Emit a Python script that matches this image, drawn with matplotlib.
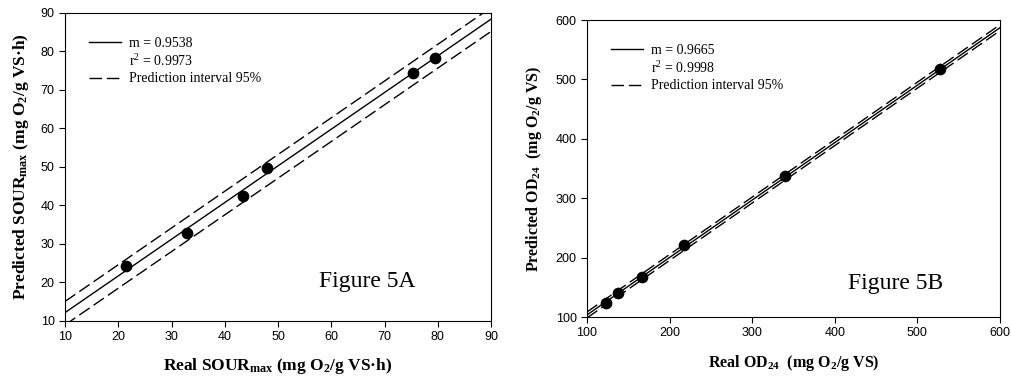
import matplotlib
matplotlib.use("Agg")
import matplotlib.pyplot as plt
from matplotlib.lines import Line2D

plt.rcParams['font.family'] = 'Liberation Serif'
plt.rcParams['mathtext.default'] = 'regular'

# Figure 5A: SOUR max
real_sour = [21.5, 33.0, 43.5, 47.9, 75.4, 79.5]
pred_sour = [24.1, 32.9, 42.5, 49.7, 74.4, 78.3]
fit_a_x = [10, 90]
fit_a_y = [12.1, 88.4]
upper_a_y = [15.0, 91.4]
lower_a_y = [8.9, 85.2]

# Figure 5B: OD24
real_od = [123, 138, 166, 217, 340, 527]
pred_od = [124, 140, 168, 221, 337, 517]
fit_b_x = [100, 600]
fit_b_y = [103.5, 587.0]
upper_b_y = [108.5, 592.0]
lower_b_y = [98.5, 582.0]

fig = plt.figure(figsize=(10.11, 3.80), dpi=100)
ax1 = fig.add_axes([65/1011, 1-320.7/380, 426/1011, 307.7/380])
ax2 = fig.add_axes([587/1011, 1-317/380, 413/1011, 297/380])

dash = (9, 3.5)


def draw(ax, x, y, fx, fy, uy, ly, m, r2, label, lx, ly_txt):
    ax.plot(fx, fy, color='black', lw=1)
    ax.plot(fx, uy, color='black', lw=1, dashes=dash)
    ax.plot(fx, ly, color='black', lw=1, dashes=dash)
    ax.scatter(x, y, s=55, color='black', zorder=3)
    handles = [Line2D([], [], color='black', lw=1),
               Line2D([], [], color='none'),
               Line2D([], [], color='black', lw=1, dashes=dash)]
    ax.legend(handles, ['m = %s' % m, 'r$^2$ = %s' % r2, 'Prediction interval 95%'],
              loc='upper left', frameon=False, fontsize=10, handlelength=2.3,
              labelspacing=0.25, handletextpad=0.6, borderaxespad=1.3)
    ax.text(lx, ly_txt, label, transform=ax.transAxes, fontsize=17,
            ha='center', va='center')
    ax.tick_params(direction='out', length=4, width=0.8, labelsize=9)
    for s in ax.spines.values():
        s.set_linewidth(0.8)


draw(ax1, real_sour, pred_sour, fit_a_x, fit_a_y, upper_a_y, lower_a_y,
     '0.9538', '0.9973', 'Figure 5A', 0.71, 0.126)
ax1.set_xlim(10, 90)
ax1.set_ylim(10, 90)
ax1.set_xticks(range(10, 91, 10))
ax1.set_yticks(range(10, 91, 10))
ax1.set_xlabel('Real SOUR$_{max}$ (mg O$_2$/g VS·h)', fontsize=12.5,
               fontweight='bold', labelpad=9)
ax1.set_ylabel('Predicted SOUR$_{max}$ (mg O$_2$/g VS·h)', fontsize=12.5,
               fontweight='bold', labelpad=7)

draw(ax2, real_od, pred_od, fit_b_x, fit_b_y, upper_b_y, lower_b_y,
     '0.9665', '0.9998', 'Figure 5B', 0.748, 0.114)
ax2.set_xlim(100, 600)
ax2.set_ylim(100, 600)
ax2.set_xticks(range(100, 601, 100))
ax2.set_yticks(range(100, 601, 100))
ax2.set_xlabel('Real OD$_{24}$  (mg O$_2$/g VS)', fontsize=11.5,
               fontweight='bold', labelpad=10)
ax2.set_ylabel('Predicted OD$_{24}$  (mg O$_2$/g VS)', fontsize=11.5,
               fontweight='bold', labelpad=8)

for ax in (ax1, ax2):
    for t in ax.get_xticklabels() + ax.get_yticklabels():
        t.set_family('Liberation Sans')

fig.savefig('out.png', dpi=100)
